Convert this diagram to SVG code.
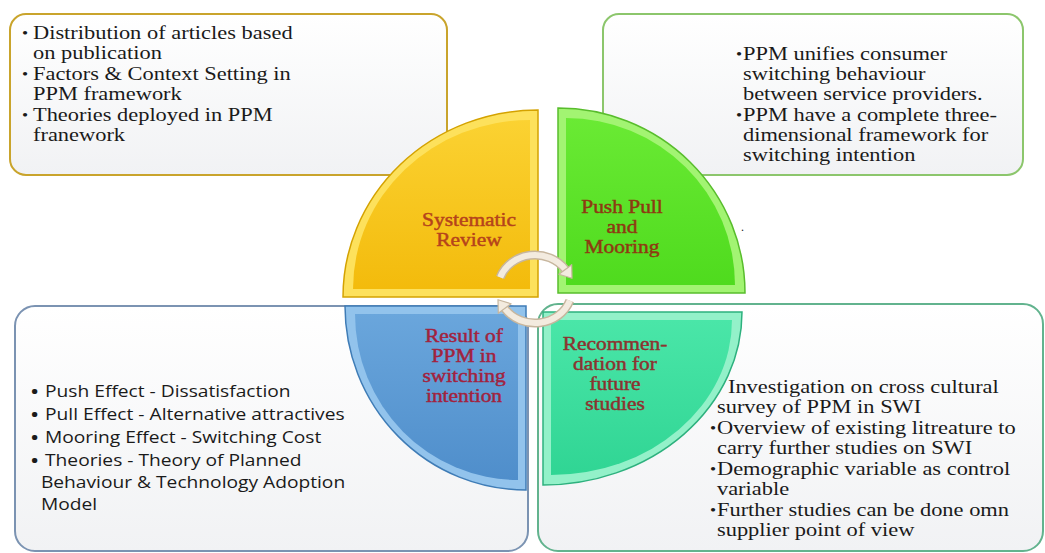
<svg xmlns="http://www.w3.org/2000/svg" width="1045" height="553" viewBox="0 0 1045 553">
<style>
.box{stroke-width:2}
.serif{font-family:"Liberation Serif","Times New Roman",serif;font-size:18px;fill:#1a1a1a}
.bul{font-family:"Liberation Serif","Times New Roman",serif;font-size:14px;fill:#1a1a1a}
.sans{font-family:"Open Sans","Liberation Sans",Arial,sans-serif;font-size:16px;fill:#1a1a1a}
.sbul{font-family:"Open Sans","Liberation Sans",Arial,sans-serif;font-size:16px;font-weight:bold;fill:#1a1a1a}
.lab{font-family:"Liberation Serif","Times New Roman",serif;font-size:18px;text-anchor:middle;stroke-width:0.45}
.arrow-out{fill:none;stroke:#c7b69e;stroke-width:9}
.arrow-in{fill:none;stroke:#f3ebdf;stroke-width:6}
.head{fill:#f3ebdf;stroke:#c7b69e;stroke-width:1.2;stroke-linejoin:round}
</style>
<defs>
<linearGradient id="boxg" x1="0" y1="0" x2="0" y2="1">
<stop offset="0" stop-color="#ffffff"/><stop offset="1" stop-color="#f1f2f4"/>
</linearGradient>
<linearGradient id="yel" x1="0" y1="0" x2="0" y2="1">
<stop offset="0" stop-color="#fbd232"/><stop offset="1" stop-color="#f3bb0c"/>
</linearGradient>
<linearGradient id="grn" x1="0" y1="0" x2="0" y2="1">
<stop offset="0" stop-color="#6aea34"/><stop offset="1" stop-color="#4fdb1e"/>
</linearGradient>
<linearGradient id="blu" x1="0" y1="0" x2="0" y2="1">
<stop offset="0" stop-color="#6aa6dc"/><stop offset="1" stop-color="#4f8ecb"/>
</linearGradient>
<linearGradient id="tea" x1="0" y1="0" x2="0" y2="1">
<stop offset="0" stop-color="#4ae6a8"/><stop offset="1" stop-color="#30d594"/>
</linearGradient>
</defs>

<g id="box-top-left">
<rect class="box" x="10" y="14" width="437" height="161" rx="16" fill="url(#boxg)" stroke="#c9a42c"/>
<g transform="matrix(1.246 0 0 1 22 0)">
<text class="bul" x="0" y="38">•</text>
<text class="serif" x="8.8" y="39">Distribution of articles based<tspan x="8.8" y="59">on publication</tspan></text>
<text class="bul" x="0" y="79">•</text>
<text class="serif" x="8.8" y="80">Factors &amp; Context Setting in<tspan x="8.8" y="100">PPM framework</tspan></text>
<text class="bul" x="0" y="120">•</text>
<text class="serif" x="8.8" y="121">Theories deployed  in PPM<tspan x="8.8" y="141">franework</tspan></text>
</g>
</g>

<g id="box-top-right">
<rect class="box" x="603" y="14" width="420" height="161" rx="16" fill="url(#boxg)" stroke="#8cc66c"/>
<g transform="matrix(1.246 0 0 1 736 0)">
<text class="bul" x="0" y="59">•</text>
<text class="serif" x="5.6" y="60">PPM unifies consumer<tspan x="5.6" y="80">switching behaviour</tspan><tspan x="5.6" y="100">between service providers.</tspan></text>
<text class="bul" x="0" y="120">•</text>
<text class="serif" x="5.6" y="121">PPM  have a complete three-<tspan x="5.6" y="141">dimensional framework for</tspan><tspan x="5.6" y="161">switching intention</tspan></text>
</g>
<text x="741" y="231" class="serif" style="font-size:12px">.</text>
</g>

<g id="box-bottom-left">
<rect class="box" x="15" y="306" width="513" height="245" rx="20" fill="url(#boxg)" stroke="#7b93b2"/>
<g transform="matrix(1.2 0 0 1 31 0)">
<text class="sbul" x="0" y="397">•</text><text class="sans" x="11.7" y="397">Push Effect - Dissatisfaction</text>
<text class="sbul" x="0" y="420">•</text><text class="sans" x="11.7" y="420">Pull Effect - Alternative attractives</text>
<text class="sbul" x="0" y="443">•</text><text class="sans" x="11.7" y="443">Mooring Effect - Switching Cost</text>
<text class="sbul" x="0" y="466">•</text>
<text class="sans" x="11.7" y="466">Theories - Theory of Planned<tspan x="8.3" y="488">Behaviour &amp; Technology Adoption</tspan><tspan x="8.3" y="510">Model</tspan></text>
</g>
</g>

<g id="box-bottom-right">
<rect class="box" x="538" y="304" width="505" height="247" rx="20" fill="url(#boxg)" stroke="#62b38e"/>
<g transform="matrix(1.246 0 0 1 710 0)">
<text class="serif" x="14.4" y="393">Investigation on cross cultural<tspan x="5.6" y="413">survey of PPM in SWI</tspan></text>
<text class="bul" x="0" y="433">•</text>
<text class="serif" x="5.6" y="434">Overview of existing litreature to<tspan x="5.6" y="454">carry further studies on SWI</tspan></text>
<text class="bul" x="0" y="474">•</text>
<text class="serif" x="5.6" y="475">Demographic variable as control<tspan x="5.6" y="495">variable</tspan></text>
<text class="bul" x="0" y="515">•</text>
<text class="serif" x="5.6" y="516">Further studies can be done omn<tspan x="5.6" y="536">supplier point of view</tspan></text>
</g>
</g>

<g id="systematic-review">
<path d="M538 297 L343 297 A195 187 0 0 1 538 110 Z" fill="#fde15c" stroke="#d4a200" stroke-width="1.5"/>
<path d="M530 289 L353 289 A177 169 0 0 1 530 120 Z" fill="url(#yel)"/>
<g transform="matrix(1.19 0 0 1 469 0)" class="lab" fill="#b5431b" stroke="#b5431b">
<text x="0" y="226">Systematic<tspan x="0" y="246">Review</tspan></text>
</g>
</g>

<g id="push-pull-mooring">
<path d="M558 293 L558 108 A187 185 0 0 1 745 293 Z" fill="#a2f472" stroke="#58bd2c" stroke-width="1.5"/>
<path d="M566 285 L566 118 A169 167 0 0 1 735 285 Z" fill="url(#grn)"/>
<g transform="matrix(1.19 0 0 1 622 0)" class="lab" fill="#8e3a12" stroke="#8e3a12">
<text x="0" y="213">Push Pull<tspan x="0" y="233">and</tspan><tspan x="0" y="253">Mooring</tspan></text>
</g>
</g>

<g id="result-ppm">
<path d="M526 306 L345 306 A181 184 0 0 0 526 490 Z" fill="#92c3ec" stroke="#3f7cb6" stroke-width="1.5"/>
<path d="M518 314 L355 314 A163 166 0 0 0 518 480 Z" fill="url(#blu)"/>
<g transform="matrix(1.19 0 0 1 464 0)" class="lab" fill="#a2223e" stroke="#a2223e">
<text x="0" y="342">Result of<tspan x="0" y="362">PPM in</tspan><tspan x="0" y="382">switching</tspan><tspan x="0" y="402">intention</tspan></text>
</g>
</g>

<g id="recommendation">
<path d="M543 312 L742 312 A199 173 0 0 1 543 485 Z" fill="#93f1c9" stroke="#2db17e" stroke-width="1.5"/>
<path d="M551 320 L732 320 A181 155 0 0 1 551 475 Z" fill="url(#tea)"/>
<g transform="matrix(1.19 0 0 1 615 0)" class="lab" fill="#8c3330" stroke="#8c3330">
<text x="0" y="350">Recommen-<tspan x="0" y="370">dation for</tspan><tspan x="0" y="390">future</tspan><tspan x="0" y="410">studies</tspan></text>
</g>
</g>

<g id="connectors">
<path class="arrow-out" d="M500.2 277.4 A37 34 0 0 1 565.3 269.5"/>
<path class="arrow-in" d="M500.2 277.4 A37 34 0 0 1 565.3 269.5"/>
<polygon class="head" points="571.7,264.7 558.9,274.3 572,278.3"/>
<path class="arrow-out" d="M569.8 300.6 A37 34 0 0 1 504.7 308.5"/>
<path class="arrow-in" d="M569.8 300.6 A37 34 0 0 1 504.7 308.5"/>
<polygon class="head" points="511.1,303.7 498.3,313.3 498,299.7"/>
</g>
</svg>
